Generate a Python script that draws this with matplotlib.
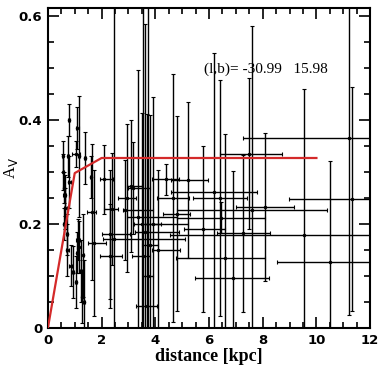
import numpy as np
import matplotlib
matplotlib.use("Agg")
import matplotlib.pyplot as plt
from matplotlib.ticker import MultipleLocator

# distance [kpc], lower/upper distance error, A_V, A_V error
dist = [0.55, 0.58, 0.60, 0.62, 0.60, 0.65, 0.70, 0.72, 0.785, 0.75,
        0.80, 0.85, 0.93, 1.05, 1.10, 1.12, 1.15, 1.10, 1.17, 1.05,
        1.23, 1.27, 1.30, 1.38, 1.35, 1.60, 1.70, 1.65,
        2.10, 2.40, 2.32, 2.47, 2.30, 2.95, 2.88, 3.10, 3.18, 3.37,
        3.50, 3.60, 3.55, 3.70, 3.81, 3.93, 3.73, 4.11, 4.40, 4.66, 4.80,
        5.20, 5.76, 6.17, 6.40, 6.45, 6.58, 6.88, 7.28, 7.50, 7.60, 8.07,
        9.53, 10.50, 11.20, 11.33]
dist_lo = [0.03, 0.03, 0.05, 0.04, 0.04, 0.05, 0.04, 0.05, 0.03, 0.03,
           0.05, 0.06, 0.05, 0.15, 0.05, 0.06, 0.07, 0.05, 0.04, 0.05,
           0.05, 0.05, 0.06, 0.05, 0.05, 0.05, 0.20, 0.20,
           0.17, 0.30, 0.30, 0.40, 0.35, 0.35, 0.08, 0.15, 0.18, 0.42,
           0.30, 0.35, 0.40, 0.40, 0.30, 0.30, 0.20, 0.25, 0.54, 0.60, 0.50,
           0.60, 0.70, 1.60, 1.00, 1.65, 1.80, 1.40, 1.00, 1.10, 2.80, 1.05,
           5.00, 1.95, 3.95, 2.36]
dist_hi = [0.03, 0.03, 0.05, 0.04, 0.04, 0.05, 0.04, 0.05, 0.03, 0.03,
           0.05, 0.06, 0.05, 0.15, 0.05, 0.06, 0.07, 0.05, 0.04, 0.05,
           0.05, 0.05, 0.06, 0.05, 0.05, 0.05, 0.45, 0.15,
           0.33, 0.20, 0.75, 2.63, 0.47, 0.35, 1.02, 0.40, 0.62, 1.43,
           1.70, 1.30, 0.25, 0.35, 0.30, 0.30, 0.20, 0.80, 0.50, 0.60, 0.50,
           0.75, 0.85, 1.60, 1.00, 1.62, 1.50, 1.37, 1.00, 1.20, 2.80, 1.10,
           5.00, 1.95, 4.00, 2.36]
av = [0.330, 0.300, 0.270, 0.255, 0.200, 0.230, 0.180, 0.150, 0.400, 0.330,
      0.280, 0.120, 0.107, 0.335, 0.385, 0.170, 0.155, 0.145, 0.330, 0.088,
      0.110, 0.060, 0.140, 0.327, 0.050, 0.290, 0.163, 0.223,
      0.286, 0.229, 0.180, 0.172, 0.138, 0.250, 0.227, 0.273, 0.269, 0.213,
      0.200, 0.185, 0.138, 0.042, 0.160, 0.200, 0.100, 0.150, 0.286, 0.250, 0.220,
      0.285, 0.190, 0.262, 0.250, 0.212, 0.135, 0.096, 0.182, 0.335, 0.227, 0.233,
      0.179, 0.127, 0.365, 0.248]
av_err = [0.030, 0.035, 0.030, 0.040, 0.030, 0.040, 0.040, 0.050, 0.030, 0.040,
          0.050, 0.040, 0.050, 0.025, 0.040, 0.040, 0.050, 0.040, 0.116, 0.050,
          0.060, 0.050, 0.080, 0.050, 0.080, 0.040, 0.140, 0.130,
          0.066, 0.107, 0.124, 0.500, 0.100, 0.142, 0.096, 0.127, 0.089, 0.283,
          0.213, 0.400, 0.500, 0.370, 0.250, 0.244, 0.600, 0.154, 0.030, 0.238, 0.188,
          0.150, 0.160, 0.267, 0.226, 0.030, 0.238, 0.206, 0.151, 0.145, 0.353, 0.142,
          0.280, 0.194, 0.340, 0.215]

# extinction model curve
model_d = [0.0, 1.0, 2.0, 10.0]
model_av = [0.0, 0.298, 0.327, 0.327]

label_lb = "(l,b)= -30.99   15.98"

fig = plt.figure(figsize=(3.8, 3.72), dpi=100)
ax = fig.add_axes([0.126, 0.118, 0.848, 0.860])

ax.errorbar(dist, av, xerr=[dist_lo, dist_hi], yerr=av_err, fmt='o',
            color='black', ms=1.5, elinewidth=1.0, capsize=1.5, capthick=0.8)
ax.plot(model_d, model_av, color='#d42a2a', lw=1.6, zorder=5)

ax.text(5.8, 0.49, label_lb, fontsize=11, family='Liberation Serif')

ax.set_xlim(0, 12)
ax.set_ylim(0, 0.615)
ax.xaxis.set_minor_locator(MultipleLocator(0.5))
ax.yaxis.set_minor_locator(MultipleLocator(0.05))
ax.set_xticks([0, 2, 4, 6, 8, 10, 12])
ax.set_xticklabels(['0', '2', '4', '6', '8', '10', '12'])
ax.set_yticks([0, 0.2, 0.4, 0.6])
ax.set_yticklabels(['0', '0.2', '0.4', '0.6'])
ax.tick_params(which='both', direction='in', top=True, right=True, width=1.2)
ax.tick_params(which='major', length=8, labelsize=9.5, pad=4)
ax.tick_params(which='minor', length=4)
for lab in ax.get_xticklabels() + ax.get_yticklabels():
    lab.set_fontweight('bold')
for sp in ax.spines.values():
    sp.set_linewidth(1.5)

ax.set_xlabel('distance [kpc]', fontsize=13, family='Liberation Serif',
              fontweight='bold', labelpad=1)
ax.set_ylabel(r'A$_\mathrm{V}$', fontsize=12, family='Liberation Serif')
ax.yaxis.set_label_coords(-0.085, 0.5)

fig.savefig('out.png', dpi=100)
